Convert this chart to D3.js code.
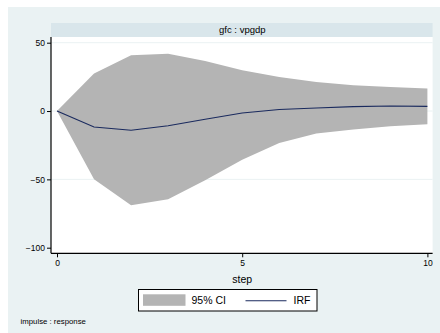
<!DOCTYPE html>
<html>
<head>
<meta charset="utf-8">
<script src="https://cdn.jsdelivr.net/npm/d3@7"></script>
<style>
  html, body { margin: 0; padding: 0; background: #ffffff; }
  svg { display: block; font-family: "Liberation Sans", Arial, sans-serif; }
</style>
</head>
<body>
<svg id="chart" width="440" height="333"></svg>
<script>
// Impulse response of vpgdp to a gfc shock, with 95% confidence band
const steps = [0, 1, 2, 3, 4, 5, 6, 7, 8, 9, 10];
const irf   = [0, -11.7, -14.1, -10.8, -6.0, -1.4, 1.1, 2.2, 3.2, 3.7, 3.4];
const ciUpper = [0, 27.4, 40.8, 42.0, 36.6, 29.8, 24.9, 21.2, 18.8, 17.6, 16.4];
const ciLower = [0, -50.0, -69.0, -64.5, -50.7, -35.6, -23.4, -16.5, -13.6, -11.2, -9.7];
const yTicks = [50, 0, -50, -100];
const xTicks = [0, 5, 10];
const panelTitle = "gfc : vpgdp";
const legendLabels = ["95% CI", "IRF"];

const svg = d3.select("#chart");

// outer graph region
svg.append("rect").attr("x", 8).attr("y", 7).attr("width", 432).attr("height", 326)
  .attr("fill", "#eaf2f3");

const plot = { left: 51, right: 432.6, top: 37, bottom: 253.3 };

// panel title strip
svg.append("rect").attr("x", plot.left).attr("y", 23)
  .attr("width", plot.right - plot.left).attr("height", 14)
  .attr("fill", "#d9e6eb");
svg.append("text").attr("x", (plot.left + plot.right) / 2 + 0.5).attr("y", 33.2)
  .attr("text-anchor", "middle").attr("font-size", 9.5).attr("fill", "#000")
  .text(panelTitle);

// plot area
svg.append("rect").attr("x", plot.left).attr("y", plot.top)
  .attr("width", plot.right - plot.left).attr("height", plot.bottom - plot.top)
  .attr("fill", "#ffffff");

const x = d3.scaleLinear().domain([0, 10]).range([57, 427.4]);
const y = d3.scaleLinear().domain([50, -100]).range([42.7, 247.7]);

// horizontal grid
svg.append("g").selectAll("line").data(yTicks.filter(v => v > -100)).join("line")
  .attr("x1", plot.left).attr("x2", plot.right)
  .attr("y1", d => y(d)).attr("y2", d => y(d))
  .attr("stroke", "#eaf2f3").attr("stroke-width", 1);

const rows = steps.map((s, i) => ({ s, irf: irf[i], lo: ciLower[i], hi: ciUpper[i] }));

// confidence band
svg.append("path").datum(rows)
  .attr("d", d3.area().x(d => x(d.s)).y0(d => y(d.lo)).y1(d => y(d.hi)))
  .attr("fill", "#b4b4b4");

// IRF line
svg.append("path").datum(rows)
  .attr("d", d3.line().x(d => x(d.s)).y(d => y(d.irf)))
  .attr("fill", "none").attr("stroke", "#1a2a5e").attr("stroke-width", 1.1);

// axes
const yAxis = d3.axisLeft(y).tickValues(yTicks).tickSize(4).tickPadding(2);
const gy = svg.append("g").attr("transform", `translate(${plot.left},0)`).call(yAxis);
gy.select(".domain").remove();
gy.append("line").attr("x1", 0).attr("x2", 0).attr("y1", plot.top).attr("y2", plot.bottom)
  .attr("stroke", "#000").attr("stroke-width", 1.2);
gy.selectAll("text").attr("font-size", 8.5).attr("fill", "#000").attr("font-family", "Liberation Sans, Arial, sans-serif");

const xAxis = d3.axisBottom(x).tickValues(xTicks).tickSize(4).tickPadding(3);
const gx = svg.append("g").attr("transform", `translate(0,${plot.bottom})`).call(xAxis);
gx.select(".domain").remove();
gx.append("line").attr("x1", plot.left).attr("x2", plot.right).attr("y1", 0).attr("y2", 0)
  .attr("stroke", "#000").attr("stroke-width", 1.2);
gx.selectAll("text").attr("font-size", 8.5).attr("fill", "#000").attr("font-family", "Liberation Sans, Arial, sans-serif");

svg.append("text").attr("x", x(5)).attr("y", 282.5).attr("text-anchor", "middle")
  .attr("font-size", 10.5).attr("fill", "#000").text("step");

// legend
const lg = svg.append("g");
lg.append("rect").attr("x", 138.5).attr("y", 289.5).attr("width", 178.5).attr("height", 21.5)
  .attr("fill", "#fff").attr("stroke", "#000").attr("stroke-width", 1);
lg.append("rect").attr("x", 143).attr("y", 294.3).attr("width", 42.5).attr("height", 11.5)
  .attr("fill", "#b4b4b4");
lg.append("text").attr("x", 191.5).attr("y", 304.3).attr("font-size", 10.5).attr("fill", "#000")
  .text(legendLabels[0]);
lg.append("line").attr("x1", 245.5).attr("x2", 286.5).attr("y1", 300.7).attr("y2", 300.7)
  .attr("stroke", "#1a2a5e").attr("stroke-width", 1.1);
lg.append("text").attr("x", 293.5).attr("y", 304.3).attr("font-size", 10.5).attr("fill", "#000")
  .text(legendLabels[1]);

svg.append("text").attr("x", 20.5).attr("y", 324).attr("font-size", 7.8).attr("fill", "#000")
  .text("impulse : response");
</script>
</body>
</html>
